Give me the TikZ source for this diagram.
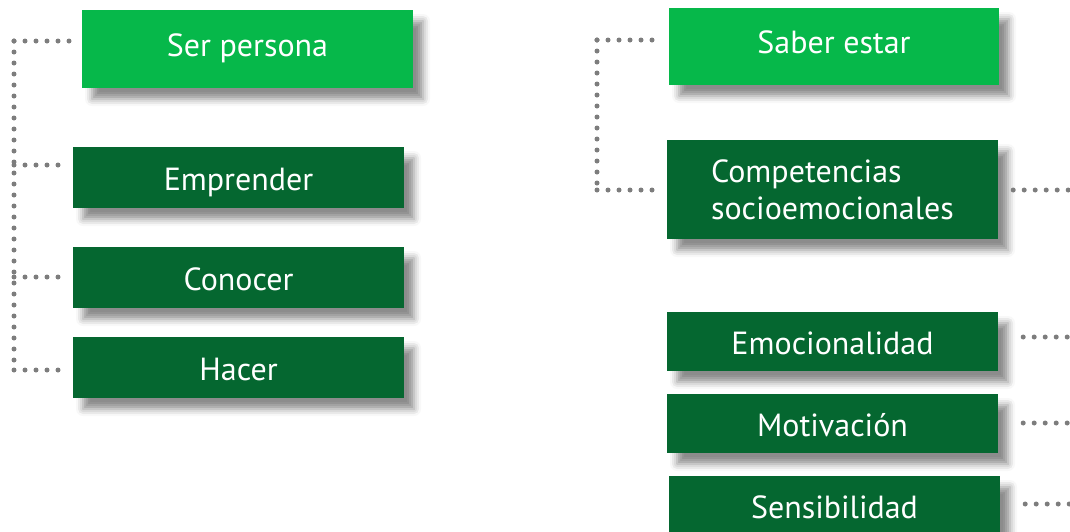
\documentclass[tikz,border=0pt]{standalone}
\usepackage{fontspec}
\setmainfont{PT Sans}
\usetikzlibrary{shadows.blur}
\definecolor{lightg}{RGB}{6,184,74}
\definecolor{darkg}{RGB}{5,103,48}
\definecolor{dotgray}{RGB}{125,125,125}
\tikzset{
  boxbase/.style={rectangle, inner sep=0pt, text=white, font=\fontsize{32}{36}\selectfont,
    blur shadow={shadow xshift=10pt, shadow yshift=-11pt, shadow blur radius=7pt, shadow opacity=45}},
  lightbox/.style={boxbase, fill=lightg, text height=22.4pt, text depth=8pt},
  darkbox/.style={boxbase, fill=darkg, text height=25pt, text depth=0pt},
  dotline/.style={draw=dotgray, line width=5pt, line cap=round, dash pattern=on 0pt off 11pt}
}
\begin{document}
\begin{tikzpicture}[x=1pt,y=-1pt]
\useasboundingbox (0,0) rectangle (1070,531);
\clip (0,0) rectangle (1070,531);
% left column
\node[lightbox, minimum width=331pt, minimum height=78pt] (ser) at (247.5,49) {Ser persona};
\node[darkbox, minimum width=331pt, minimum height=61pt] (emp) at (238.5,177.5) {Emprender};
\node[darkbox, minimum width=331pt, minimum height=61pt] (con) at (238.5,277.5) {Conocer};
\node[darkbox, minimum width=331pt, minimum height=61pt] (hac) at (238.5,367.5) {Hacer};
% right column
\node[lightbox, minimum width=330pt, minimum height=77pt] (sab) at (834,46.5) {Saber estar};
\node[darkbox, minimum width=331pt, minimum height=99pt, align=left, text height=, text depth=, font=\fontsize{32}{37}\selectfont] (comp) at (832.5,189.5) {Competencias\\socioemocionales};
\node[darkbox, minimum width=331pt, minimum height=59pt] (emo) at (832.5,341.5) {Emocionalidad};
\node[darkbox, minimum width=331pt, minimum height=59pt] (mot) at (832.5,423.5) {Motivación};
\node[darkbox, minimum width=331pt, minimum height=59pt] (sen) at (834.5,505.5) {Sensibilidad};
% left bracket
\coordinate (lt) at (14,41);
\coordinate (lb) at (14,370);
\draw[dotline] (lt) -- (lb);
\draw[dotline] (lt) -- ([xshift=-9pt,yshift=8pt]ser.west);
\draw[dotline] (lt |- 0,165) -- ([xshift=-10pt,yshift=12.5pt]emp.west);
\draw[dotline] (lt |- 0,277) -- ([xshift=-10pt,yshift=0.5pt]con.west);
\draw[dotline] (lb) -- ([xshift=-10pt,yshift=-2.5pt]hac.west);
% right bracket
\coordinate (rt) at (597,40);
\coordinate (rb) at (597,190);
\draw[dotline] (rt) -- (rb);
\draw[dotline] (rt) -- ([xshift=-12pt,yshift=6.5pt]sab.west);
\draw[dotline] (rb) -- ([xshift=-10pt,yshift=-0.5pt]comp.west);
% outgoing right
\coordinate (oc) at (1076,190);
\coordinate (oe) at (1076,337);
\coordinate (om) at (1076,423);
\coordinate (os) at (1076,504);
\draw[dotline] ([xshift=15pt,yshift=-0.5pt]comp.east) -- (oc);
\draw[dotline] ([xshift=25pt,yshift=4.5pt]emo.east) -- (oe);
\draw[dotline] ([xshift=25pt,yshift=0.5pt]mot.east) -- (om);
\draw[dotline] ([xshift=25pt,yshift=1.5pt]sen.east) -- (os);
\end{tikzpicture}
\end{document}
